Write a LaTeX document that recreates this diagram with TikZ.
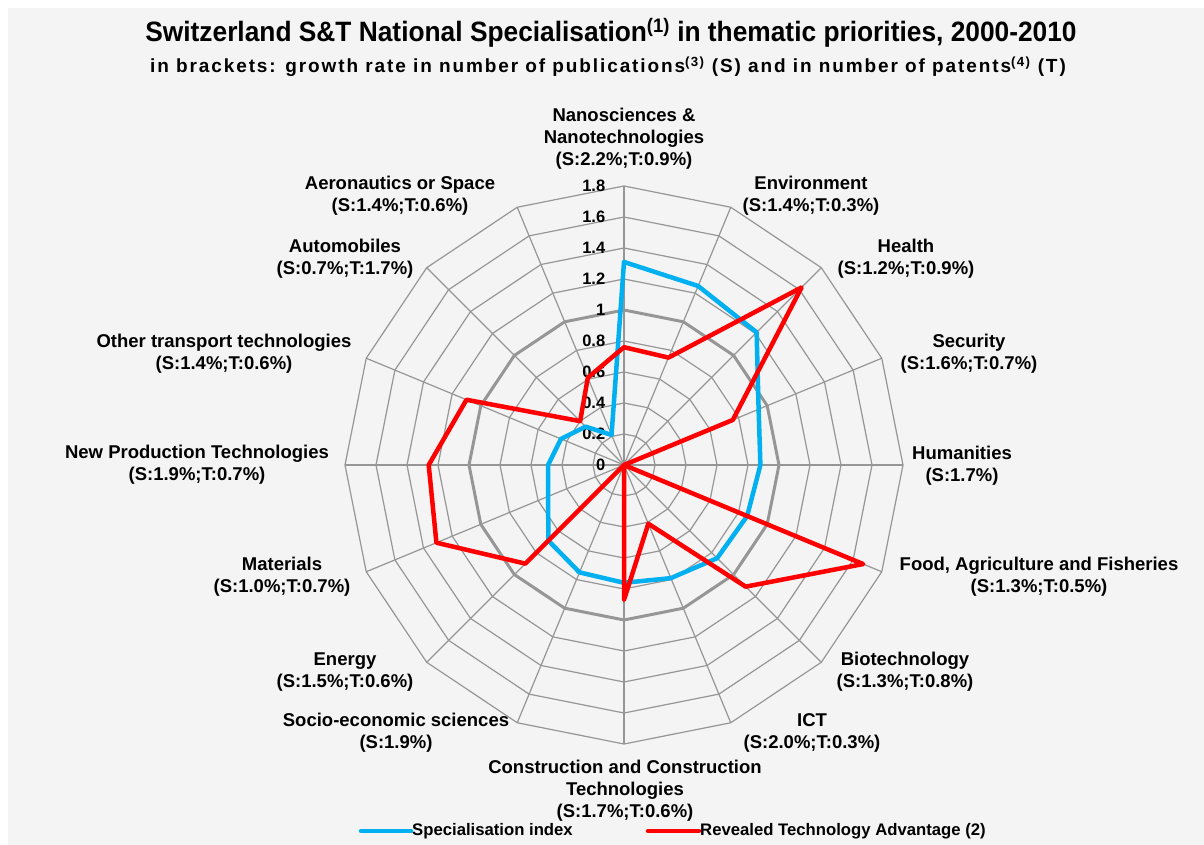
\documentclass[tikz,border=0pt]{standalone}
\usepackage{fontspec}
\usepackage{graphicx}
\setmainfont{Liberation Sans}
\newfontfamily\spacedsans[LetterSpace=10]{Liberation Sans}
\usetikzlibrary{positioning}
\definecolor{specblue}{RGB}{0,176,240}
\definecolor{rtared}{RGB}{255,0,0}
\definecolor{gridgray}{RGB}{150,150,150}
\definecolor{panel}{RGB}{244,244,244}

\begin{document}
\begin{tikzpicture}[x=1pt, y=1pt,
	catlabel/.style={align=center, inner sep=0pt, font=\fontsize{18.5}{22}\selectfont\bfseries},
	ticklabel/.style={anchor=east, inner sep=0pt, font=\fontsize{16.5}{16.5}\selectfont\bfseries},
	legtext/.style={anchor=west, inner sep=1pt, font=\fontsize{16.7}{16.7}\selectfont\bfseries},
	gridline/.style={gridgray, line width=1.2pt},
	gridbold/.style={gridgray, line width=3pt, line join=round},
	specline/.style={specblue, line width=4.5pt, line join=round, line cap=round},
	rtaline/.style={rtared, line width=4.5pt, line join=round, line cap=round}]

	\useasboundingbox (0,0) rectangle (1204,-845);
	\fill[panel] (8,-8) rectangle (1204,-845);

	\node[font=\fontsize{28}{30}\selectfont\bfseries] (title) at (611,-33)
		{\scalebox{0.94}[1]{Switzerland S\&T National Specialisation\textsuperscript{(1)} in thematic priorities, 2000-2010}};
	\node[font=\fontsize{19}{22}\selectfont\spacedsans\bfseries] (subtitle) at (608,-67)
		{in brackets: growth rate in number of publications\textsuperscript{(3)} (S) and in number of patents\textsuperscript{(4)} (T)};

	\begin{scope}[shift={(624pt,-465pt)}, x=155pt, y=155pt]
		% web
		\foreach \i in {0,...,15}
			\draw[gridline] (0,0) -- ({90-22.5*\i}:1.8);
		\foreach \r in {0.2,0.4,0.6,0.8,1.2,1.4,1.6,1.8}
			\draw[gridline] (90:\r) \foreach \i in {1,...,15} { -- ({90-22.5*\i}:\r) } -- cycle;
		\draw[gridbold] (90:1) \foreach \i in {1,...,15} { -- ({90-22.5*\i}:1) } -- cycle;

		% scale
		\foreach \v/\t in {0/0,0.2/0.2,0.4/0.4,0.6/0.6,0.8/0.8,1/1,1.2/1.2,1.4/1.4,1.6/1.6,1.8/1.8}
			\node[ticklabel] (tick\t) at (-0.12,\v) {\t};

		% Specialisation index
		\draw[specline] (90:1.31) \foreach \v [count=\i] in {1.25,1.21,0.94,0.88,0.86,0.85,0.79,0.76,0.75,0.69,0.53,0.49,0.44,0.35,0.21}
			{ -- ({90-22.5*\i}:\v) } -- cycle;
		% Revealed Technology Advantage
		\draw[rtaline] (90:0.76) \foreach \v [count=\i] in {0.75,1.62,0.76,0,1.67,1.11,0.41,0.87,0,0.90,1.31,1.26,1.10,0.40,0.61}
			{ -- ({90-22.5*\i}:\v) } -- cycle;
	\end{scope}

	% category labels
	\node[catlabel] (nano) at (624,-139) {Nanosciences \&\\Nanotechnologies\\(S:2.2\%;T:0.9\%)};
	\node[catlabel] (env) at (811,-196) {Environment\\(S:1.4\%;T:0.3\%)};
	\node[catlabel] (health) at (906,-259) {Health\\(S:1.2\%;T:0.9\%)};
	\node[catlabel] (security) at (969,-354) {Security\\(S:1.6\%;T:0.7\%)};
	\node[catlabel] (humanities) at (962,-466) {Humanities\\(S:1.7\%)};
	\node[catlabel] (food) at (1039,-577) {Food, Agriculture and Fisheries\\(S:1.3\%;T:0.5\%)};
	\node[catlabel] (biotech) at (905,-672) {Biotechnology\\(S:1.3\%;T:0.8\%)};
	\node[catlabel] (ict) at (812,-733) {ICT\\(S:2.0\%;T:0.3\%)};
	\node[catlabel] (constr) at (625,-791) {Construction and Construction\\Technologies\\(S:1.7\%;T:0.6\%)};
	\node[catlabel] (socio) at (396,-733) {Socio-economic sciences\\(S:1.9\%)};
	\node[catlabel] (energy) at (345,-672) {Energy\\(S:1.5\%;T:0.6\%)};
	\node[catlabel] (materials) at (282,-577) {Materials\\(S:1.0\%;T:0.7\%)};
	\node[catlabel] (newprod) at (197,-465) {New Production Technologies\\(S:1.9\%;T:0.7\%)};
	\node[catlabel] (othertr) at (224,-354) {Other transport technologies\\(S:1.4\%;T:0.6\%)};
	\node[catlabel] (auto) at (345,-259) {Automobiles\\(S:0.7\%;T:1.7\%)};
	\node[catlabel] (aero) at (400,-196) {Aeronautics or Space\\(S:1.4\%;T:0.6\%)};

	% legend
	\coordinate (specA) at (361,-831);
	\coordinate (specB) at (411,-831);
	\draw[specline] (specA) -- (specB);
	\node[legtext] (spectext) at (specB) {Specialisation index};
	\coordinate (rtaA) at (648,-831);
	\coordinate (rtaB) at (699,-831);
	\draw[rtaline] (rtaA) -- (rtaB);
	\node[legtext] (rtatext) at (rtaB) {Revealed Technology Advantage (2)};

\end{tikzpicture}
\end{document}
